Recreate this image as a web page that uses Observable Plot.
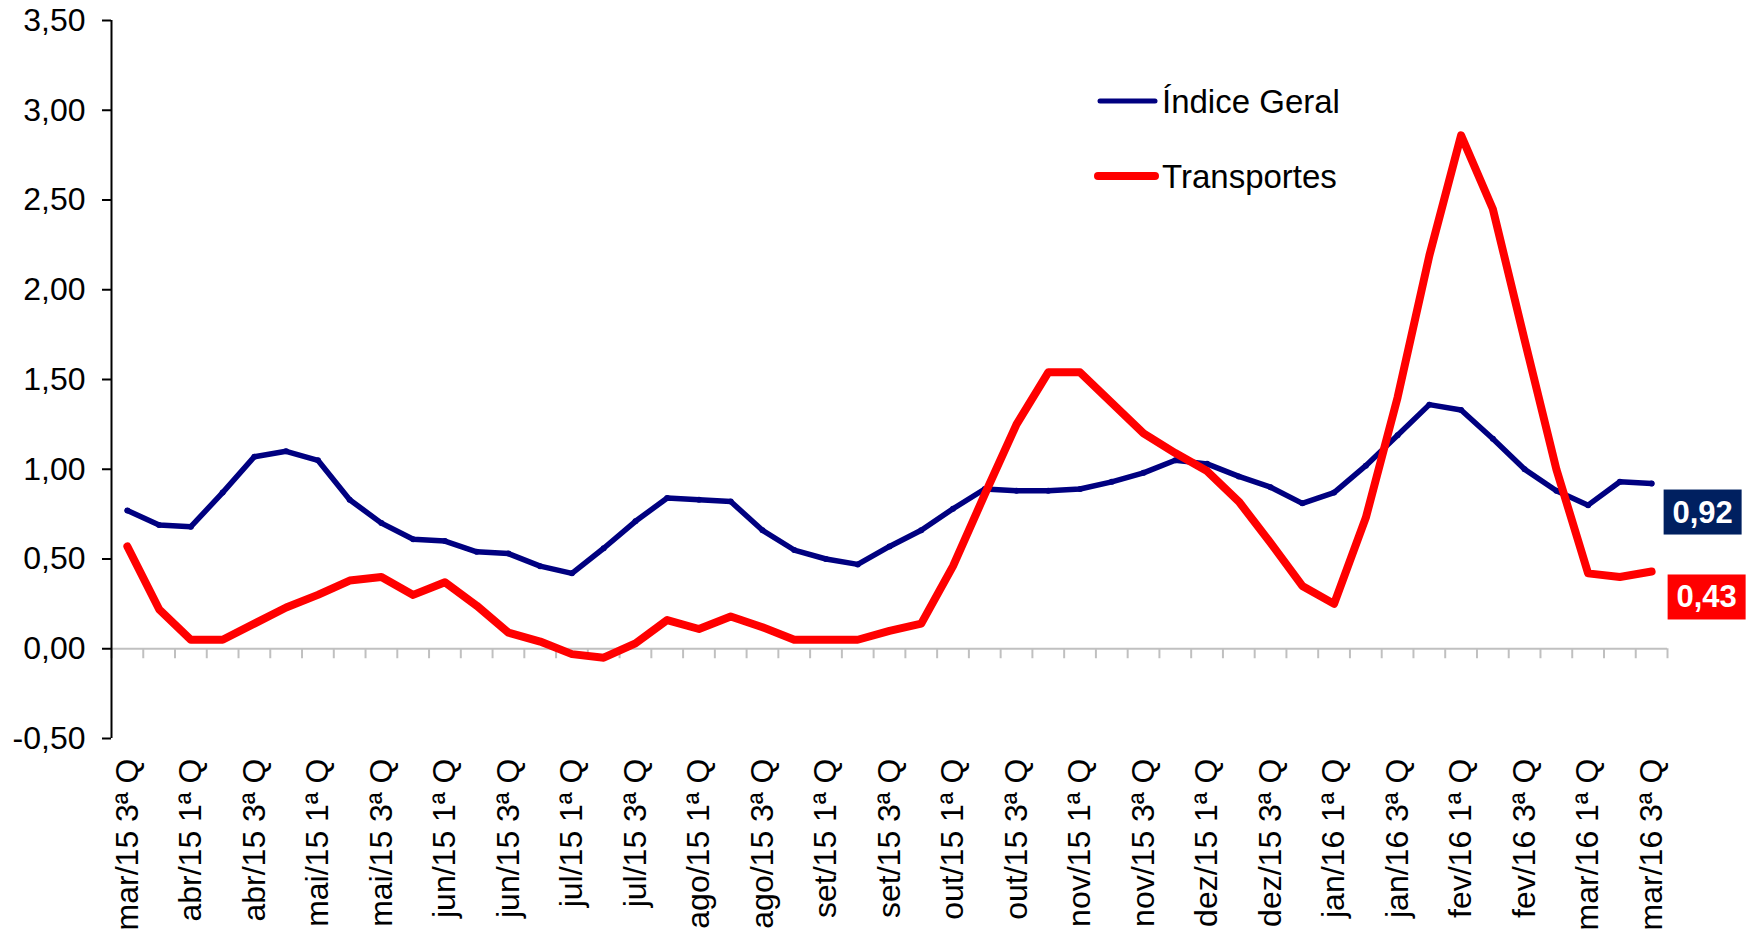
<!DOCTYPE html>
<html><head><meta charset="utf-8">
<script src="https://cdn.jsdelivr.net/npm/d3@7"></script>
<script src="https://cdn.jsdelivr.net/npm/@observablehq/plot@0.6"></script>
<style>
html,body{margin:0;padding:0;background:#fff;}
#wrap{position:relative;width:1754px;height:932px;overflow:hidden;}
#legend{position:absolute;left:0;top:0;pointer-events:none;}
</style></head><body>
<div id="wrap"><div id="chart"></div><svg id="legend" width="1754" height="932"></svg></div>
<script>
// ---- data ----
const categories = [
  "mar/15 3ª Q","mar/15",
  "abr/15 1ª Q","abr/15 2ª Q","abr/15 3ª Q","abr/15",
  "mai/15 1ª Q","mai/15 2ª Q","mai/15 3ª Q","mai/15",
  "jun/15 1ª Q","jun/15 2ª Q","jun/15 3ª Q","jun/15",
  "jul/15 1ª Q","jul/15 2ª Q","jul/15 3ª Q","jul/15",
  "ago/15 1ª Q","ago/15 2ª Q","ago/15 3ª Q","ago/15",
  "set/15 1ª Q","set/15 2ª Q","set/15 3ª Q","set/15",
  "out/15 1ª Q","out/15 2ª Q","out/15 3ª Q","out/15",
  "nov/15 1ª Q","nov/15 2ª Q","nov/15 3ª Q","nov/15",
  "dez/15 1ª Q","dez/15 2ª Q","dez/15 3ª Q","dez/15",
  "jan/16 1ª Q","jan/16 2ª Q","jan/16 3ª Q","jan/16",
  "fev/16 1ª Q","fev/16 2ª Q","fev/16 3ª Q","fev/16",
  "mar/16 1ª Q","mar/16 2ª Q","mar/16 3ª Q"
];
const xTickLabels = [
  "mar/15 3ª Q","abr/15 1ª Q","abr/15 3ª Q","mai/15 1ª Q","mai/15 3ª Q",
  "jun/15 1ª Q","jun/15 3ª Q","jul/15 1ª Q","jul/15 3ª Q","ago/15 1ª Q",
  "ago/15 3ª Q","set/15 1ª Q","set/15 3ª Q","out/15 1ª Q","out/15 3ª Q",
  "nov/15 1ª Q","nov/15 3ª Q","dez/15 1ª Q","dez/15 3ª Q","jan/16 1ª Q",
  "jan/16 3ª Q","fev/16 1ª Q","fev/16 3ª Q","mar/16 1ª Q","mar/16 3ª Q"
];
const indiceGeral = [
  0.77,0.69,0.68,0.87,1.07,1.10,1.05,0.83,0.70,0.61,
  0.60,0.54,0.53,0.46,0.42,0.56,0.71,0.84,0.83,0.82,
  0.66,0.55,0.50,0.47,0.57,0.66,0.78,0.89,0.88,0.88,
  0.89,0.93,0.98,1.05,1.03,0.96,0.90,0.81,0.87,1.02,
  1.19,1.36,1.33,1.17,1.00,0.88,0.80,0.93,0.92
];
const transportes = [
  0.57,0.22,0.05,0.05,0.14,0.23,0.30,0.38,0.40,0.30,
  0.37,0.24,0.09,0.04,-0.03,-0.05,0.03,0.16,0.11,0.18,
  0.12,0.05,0.05,0.05,0.10,0.14,0.46,0.86,1.25,1.54,
  1.54,1.37,1.20,1.09,0.99,0.82,0.59,0.35,0.25,0.73,
  1.40,2.19,2.86,2.45,1.72,1.00,0.42,0.40,0.43
];
const yTicks = [-0.5,0,0.5,1,1.5,2,2.5,3,3.5];
const seriesNames = ["Índice Geral","Transportes"];
const lineColors = ["#000080","#ff0000"];
const boxColors = ["#002060","#ff0000"];

// ---- layout ----
const W = 1754, H = 932, ML = 111, MR = 87, MT = 20, MB = 194;
const step = (W - ML - MR) / categories.length;
const FONT = "'Liberation Sans', Arial, Helvetica, sans-serif";
const fmt = v => d3.format(".2f")(v).replace(".", ",").replace("−","-");

const geral = categories.map((c,i) => ({cat: c, v: indiceGeral[i]}));
const transp = categories.map((c,i) => ({cat: c, v: transportes[i]}));
const last = categories.length - 1;

const plot = Plot.plot({
  width: W, height: H,
  marginLeft: ML, marginRight: MR, marginTop: MT, marginBottom: MB,
  style: {fontFamily: FONT, fontSize: "32px", color: "#000", background: "#fff"},
  x: {type: "point", domain: categories, padding: 0.5, label: null},
  y: {domain: [-0.5, 3.5], label: null},
  marks: [
    Plot.ruleY([0], {stroke: "#c0c0c0", strokeWidth: 2}),
    Plot.ruleX(categories, {x: d => d, y1: 0, y2: 0, insetBottom: -10, dx: -step/2, stroke: "#c0c0c0", strokeWidth: 2}),
    Plot.ruleX([categories[last]], {x: d => d, y1: 0, y2: 0, insetBottom: -10, dx: step/2, stroke: "#c0c0c0", strokeWidth: 2}),
    Plot.ruleX([categories[0]], {x: d => d, dx: -step/2, stroke: "#000", strokeWidth: 2}),
    Plot.axisY({ticks: yTicks, tickSize: 9, tickPadding: 17, tickFormat: fmt, fontSize: 32, strokeWidth: 2, label: null}),
    Plot.axisX({ticks: xTickLabels, tickSize: 0, tickPadding: 20, tickRotate: -90, fontSize: 32, label: null}),
    Plot.line(geral, {x: "cat", y: "v", stroke: lineColors[0], strokeWidth: 5.5, strokeLinejoin: "round", strokeLinecap: "round"}),
    Plot.dot(geral, {x: "cat", y: "v", r: 3, fill: lineColors[0]}),
    Plot.line(transp, {x: "cat", y: "v", stroke: lineColors[1], strokeWidth: 8, strokeLinejoin: "round", strokeLinecap: "round"}),
    Plot.text([geral[last]], {x: "cat", y: "v", text: d => fmt(d.v), dx: 51, dy: 29, fill: "white", fontWeight: "bold", fontSize: 31}),
    Plot.text([transp[last]], {x: "cat", y: "v", text: d => fmt(d.v), dx: 55, dy: 26, fill: "white", fontWeight: "bold", fontSize: 31})
  ]
});
plot.style.overflow = "visible";
document.getElementById("chart").appendChild(plot);

// boxes behind end labels (the two white text marks, in series order)
const endTexts = Array.from(plot.querySelectorAll('g[fill="white"] text'));
endTexts.forEach((t, k) => {
  const bb = t.getBBox();
  const cx = bb.x + bb.width/2, cy = bb.y + bb.height/2;
  const r = document.createElementNS("http://www.w3.org/2000/svg","rect");
  r.setAttribute("x", cx - 39); r.setAttribute("y", cy - 22.5);
  r.setAttribute("width", 78); r.setAttribute("height", 45);
  r.setAttribute("fill", boxColors[k] || boxColors[0]);
  if (t.getAttribute("transform")) r.setAttribute("transform", t.getAttribute("transform"));
  t.parentNode.insertBefore(r, t);
});

// legend
const lg = d3.select("#legend");
const legendRows = [
  {name: seriesNames[0], color: lineColors[0], w: 5, x1: 1100, x2: 1155, y: 101},
  {name: seriesNames[1], color: lineColors[1], w: 8, x1: 1098, x2: 1155, y: 176}
];
legendRows.forEach(r => {
  lg.append("line").attr("x1", r.x1).attr("x2", r.x2).attr("y1", r.y).attr("y2", r.y)
    .attr("stroke", r.color).attr("stroke-width", r.w).attr("stroke-linecap", "round");
  lg.append("text").attr("x", 1162).attr("y", r.y).attr("dy", "0.36em")
    .attr("font-family", FONT).attr("font-size", 33).attr("fill", "#000").text(r.name);
});
</script>
</body></html>
